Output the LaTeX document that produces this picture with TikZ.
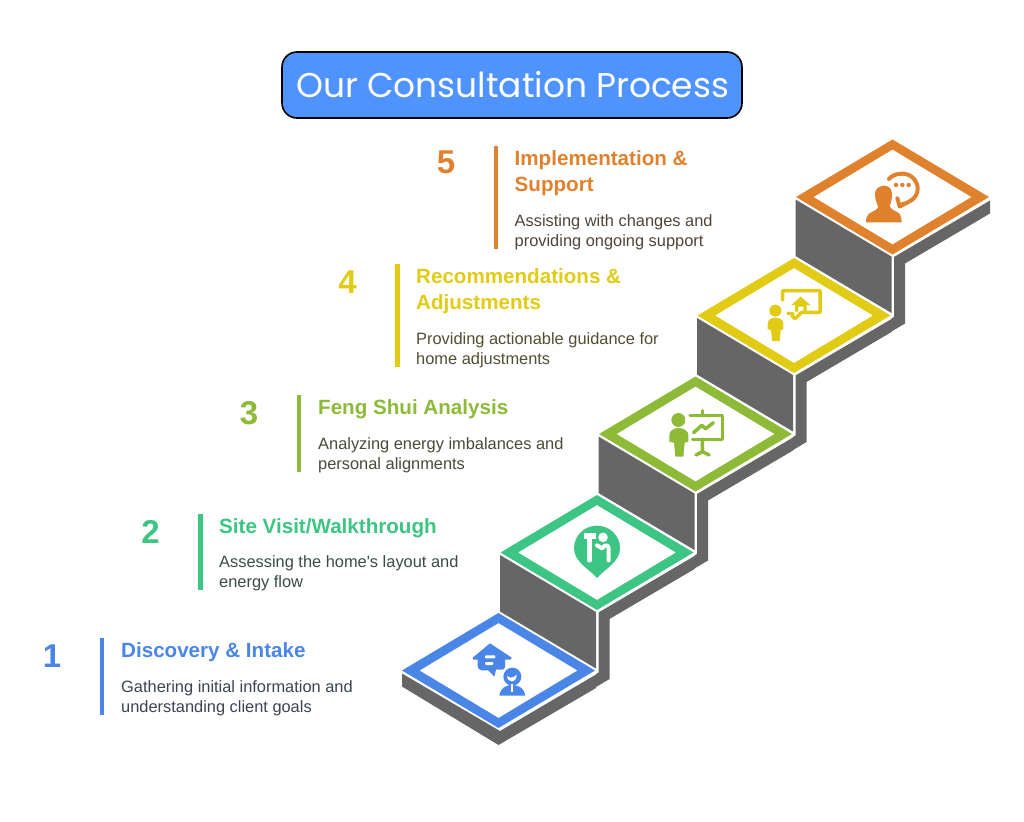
\documentclass[tikz,border=0pt]{standalone}
\usepackage{fontspec}
\setmainfont{Liberation Sans}
\newfontfamily\titlefont{Poppins}
\definecolor{cblue}{HTML}{4A86E8}
\definecolor{cgreen}{HTML}{3CC583}
\definecolor{clime}{HTML}{8DBB37}
\definecolor{cyellow}{HTML}{E2CB14}
\definecolor{corange}{HTML}{E0812E}
\definecolor{cgrey}{HTML}{666666}
\definecolor{ctitle}{HTML}{4F93FF}
\definecolor{ctext}{HTML}{383838}
\newcommand{\stepbase}[2]{%
  \fill[cgrey] (#1-97,#2+2.5)--(#1-97,#2+59)--(#1-1,#2+116)--(#1-1,#2+59.5)--cycle;
  \fill[cgrey] (#1+1.5,#2+60)--(#1+97.5,#2+3.5)--(#1+97.5,#2+16.5)--(#1+12.5,#2+66.5)--(#1+12.5,#2+126.5)--(#1-3,#2+135.7)--(#1-1,#2+121.5)--(#1+1.5,#2+120)--cycle;
}
\newcommand{\steptop}[3]{%
  \fill[#3,even odd rule] (#1-96.5,#2)--(#1,#2-57.5)--(#1+96.5,#2)--(#1,#2+57.5)--cycle
    (#1-79,#2)--(#1,#2-47.5)--(#1+79,#2)--(#1,#2+47.5)--cycle;
}
\tikzset{
  numtext/.style={font=\bfseries\fontsize{33}{33}\selectfont,anchor=base,inner sep=0},
  headtext/.style={font=\bfseries\fontsize{20.6}{26}\selectfont,anchor=base west,inner sep=0},
  bodytext/.style={font=\fontsize{16.4}{20}\selectfont,anchor=base west,inner sep=0},
  iconline/.style={line width=3.5pt,line cap=round,line join=round},
  zoomed/.style={x=0.33333pt,y=-0.33333pt},
}
\begin{document}
\begin{tikzpicture}[x=1pt,y=-1pt]
\useasboundingbox (0,0) rectangle (1024,821);
\fill[white] (0,0) rectangle (1024,821);
% title
\node[draw=black,line width=1.6pt,fill=ctitle,rounded corners=15pt,minimum width=460pt,minimum height=66pt,inner sep=0,text=white] (title) at (512,85) {\raisebox{1pt}{\hspace{1.5pt}\titlefont\fontsize{34.4}{35}\selectfont Our Consultation Process}};
% staircase, top to bottom
\stepbase{892.5}{197}
\stepbase{794}{315.5}
\stepbase{695.5}{434}
\stepbase{597}{552.5}
% lowest step
\fill[cgrey] (402,673.5)--(402,686.5)--(498.5,745)--(596,688)--(596,674.5)--(500,731)--cycle;
\steptop{892.5}{197}{corange}
\steptop{794}{315.5}{cyellow}
\steptop{695.5}{434}{clime}
\steptop{597}{552.5}{cgreen}
\steptop{498.5}{670.5}{cblue}
% texts
\node[numtext,text=cblue] (n1) at (52,667) {1};
\fill[cblue] (99.5,638) rectangle (104,715);
\node[headtext,text=cblue] (h1) at (121,657) {Discovery \& Intake};
\node[bodytext,text=ctext!85!cblue] (b1a) at (121,692) {Gathering initial information and};
\node[bodytext,text=ctext!85!cblue] (b1b) at (121,712) {understanding client goals};
\node[numtext,text=cgreen] (n2) at (150.5,543) {2};
\fill[cgreen] (198,514) rectangle (202.5,590);
\node[headtext,text=cgreen] (h2) at (219,533) {Site Visit/Walkthrough};
\node[bodytext,text=ctext!85!cgreen] (b2a) at (219,567) {Assessing the home\textquotesingle s layout and};
\node[bodytext,text=ctext!85!cgreen] (b2b) at (219,587) {energy flow};
\node[numtext,text=clime] (n3) at (249,424) {3};
\fill[clime] (296.5,395) rectangle (301,472);
\node[headtext,text=clime] (h3) at (318,414) {Feng Shui Analysis};
\node[bodytext,text=ctext!85!clime] (b3a) at (318,449) {Analyzing energy imbalances and};
\node[bodytext,text=ctext!85!clime] (b3b) at (318,469) {personal alignments};
\node[numtext,text=cyellow] (n4) at (347.5,293) {4};
\fill[cyellow] (395,264) rectangle (399.5,367);
\node[headtext,text=cyellow] (h4a) at (416,283) {Recommendations \&};
\node[headtext,text=cyellow] (h4b) at (416,309) {Adjustments};
\node[bodytext,text=ctext!85!cyellow] (b4a) at (416,344) {Providing actionable guidance for};
\node[bodytext,text=ctext!85!cyellow] (b4b) at (416,364) {home adjustments};
\node[numtext,text=corange] (n5) at (446,174) {5};
\fill[corange] (493.5,146) rectangle (498,249);
\node[headtext,text=corange] (h5a) at (514.5,165) {Implementation \&};
\node[headtext,text=corange] (h5b) at (514.5,191) {Support};
\node[bodytext,text=ctext!85!corange] (b5a) at (514.5,226) {Assisting with changes and};
\node[bodytext,text=ctext!85!corange] (b5b) at (514.5,246) {providing ongoing support};
% icon 1
\begin{scope}[shift={(460pt,-635pt)},zoomed]
\fill[cblue,line join=round] (38,68)--(90,25)--(155,68)--(152,74)--(135,74)--(135,95)..controls (135,102) and (130,104) .. (125,104)--(108,104)--(103,125)--(85,106)--(65,106)..controls (58,106) and (53,100) .. (53,93)--(53,74)--(40,74)--cycle;
\fill[white,rounded corners=1pt] (75,61) rectangle (106,70);
\fill[white,rounded corners=1pt] (75,81) rectangle (100,90);
\fill[cblue] (157,125) circle (9pt);
\fill[white] (142,122)..controls (148,130) and (160,130) .. (170,119)..controls (171,131) and (163,139) .. (155,139)..controls (147,139) and (141,132) .. (142,122)--cycle;
\fill[cblue] (118,182)..controls (120,162) and (135,150) .. (157,150)..controls (178,150) and (194,162) .. (196,182)--cycle;
\fill[white] (154,148) rectangle (160,172);
\end{scope}
% icon 2
\begin{scope}[shift={(560pt,-515pt)},zoomed]
\fill[cgreen] (42,100)..controls (42,62) and (73,32) .. (111,32)..controls (149,32) and (180,62) .. (180,100)..controls (180,140) and (137,160) .. (111,189)..controls (85,160) and (42,140) .. (42,100)--cycle;
\fill[white] (73,55) rectangle (108,73);
\draw[white,line width=4.5pt,line cap=round] (88,70)--(88,136);
\fill[white] (129,67) circle (4.8pt);
\draw[white,line width=4pt,line cap=round,line join=round] (111,91)--(126,100)--(134,92)..controls (142,88) and (146,94) .. (146,100)--(146,136);
\end{scope}
% icon 3
\begin{scope}[shift={(660pt,-400pt)},zoomed]
\fill[clime] (55,60) circle (7pt);
\fill[clime] (28,125)--(28,105)..controls (28,92) and (42,84) .. (56,84)..controls (70,84) and (85,92) .. (85,105)--(85,125)--(74,128)--(70,170)--(46,170)--(42,128)--cycle;
\draw[clime,iconline] (90,47)--(187,47)--(187,118)--(98,118);
\draw[clime,iconline] (127,32)--(127,47);
\draw[clime,iconline] (127,118)--(127,155)--(108,165);
\draw[clime,iconline] (127,155)--(147,165);
\draw[clime,iconline] (101,98)--(125,76)--(137,86)--(160,68);
\end{scope}
% icon 4
\begin{scope}[shift={(760pt,-280pt)},zoomed]
\fill[cyellow] (46,92) circle (6pt);
\fill[cyellow] (23,148)--(23,130)..controls (23,120) and (34,113) .. (46,113)..controls (58,113) and (70,120) .. (70,130)--(70,148)--(62,150)--(59,183)--(36,183)--(33,150)--cycle;
\draw[cyellow,iconline] (68,60)--(68,32)--(180,32)--(180,97)--(125,97)--(105,116)--(98,110)--(98,101)--(84,100);
\fill[cyellow] (122,50)--(151,75)--(140,75)--(140,95)--(130,95)--(130,80)--(115,80)--(115,95)--(105,95)--(105,75)--(94,75)--cycle;
\end{scope}
% icon 5
\begin{scope}[shift={(860pt,-165pt)},zoomed]
\fill[corange] (45,85)..controls (45,70) and (60,62) .. (75,62)..controls (90,62) and (98,78) .. (96,95)..controls (95,108) and (90,118) .. (90,125)..controls (92,135) and (115,140) .. (120,148)..controls (124,155) and (125,165) .. (125,172)--(18,172)..controls (18,160) and (20,152) .. (26,147)..controls (35,140) and (53,135) .. (55,125)..controls (50,115) and (45,105) .. (45,85)--cycle;
\draw[corange,line width=4pt,line cap=round,line join=round] (87,42)..controls (100,25) and (135,20) .. (155,35)..controls (180,55) and (178,90) .. (155,105)..controls (145,112) and (130,118) .. (119,124)--(112,100);
\draw[corange,line width=4pt,line cap=round] (119,124)--(130,116);
\fill[corange] (108,60) circle (2.2pt) (127,60) circle (2.2pt) (146,60) circle (2.2pt);
\end{scope}
\end{tikzpicture}
\end{document}
